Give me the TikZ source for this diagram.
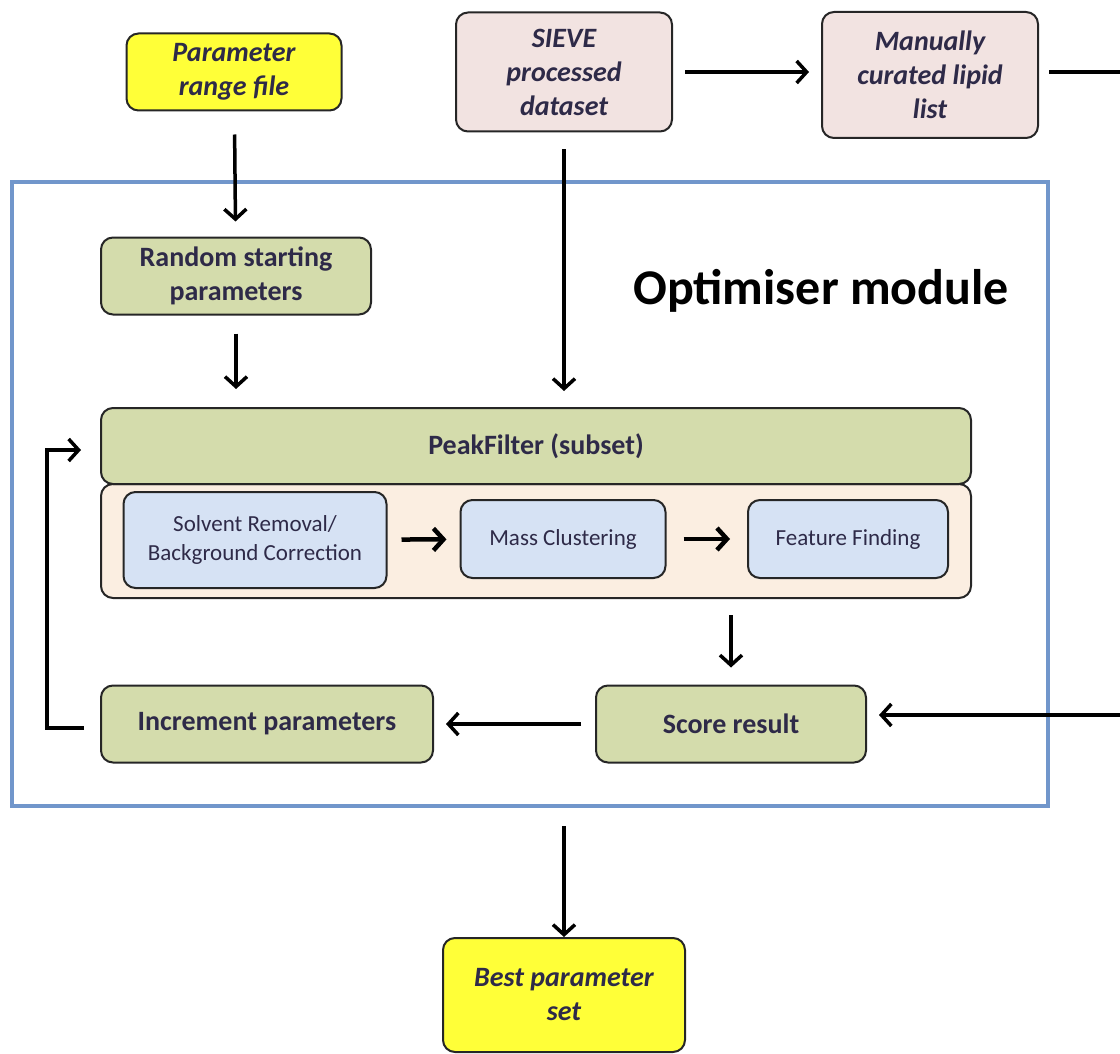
\documentclass[tikz,border=0pt]{standalone}
\usepackage{fontspec}
\setmainfont{Carlito}
\usetikzlibrary{arrows.meta}
\definecolor{ink}{HTML}{2E2A48}
\definecolor{lemon}{HTML}{FFFF38}
\definecolor{rose}{HTML}{F2E3E1}
\definecolor{sage}{HTML}{D4DCAC}
\definecolor{cream}{HTML}{FBEEE1}
\definecolor{sky}{HTML}{D6E2F4}
\definecolor{frameblue}{HTML}{7196CB}
\tikzset{box/.style={draw=black!85, line width=2pt, rounded corners=12pt, inner sep=0pt, align=center, text=ink},
         infile/.style={box, fill=lemon, font=\fontsize{28}{34}\selectfont\bfseries\itshape},
         indata/.style={box, fill=rose, font=\fontsize{28}{34}\selectfont\bfseries\itshape},
         stepbox/.style={box, fill=sage, font=\fontsize{28}{34}\selectfont\bfseries},
         subbox/.style={box, fill=sky, font=\fontsize{23}{29}\selectfont},
         arr/.style={-{Straight Barb[length=10pt,width=22pt]}, line width=3.5pt, black},
         link/.style={line width=3.5pt, black}}

\begin{document}
\begin{tikzpicture}[x=1pt,y=-1pt]
   \useasboundingbox (0,0) rectangle (1120,1054);
   \node[draw=frameblue, line width=4pt, minimum width=1036pt, minimum height=624pt] (frame) at (530,494) {};
   \node[font=\fontsize{50}{58}\selectfont\bfseries] (title) at (821,291) {Optimiser module};
   % inputs
   \node[infile, minimum width=215pt, minimum height=77pt] (par) at (234,72) {Parameter\\range file};
   \node[indata, minimum width=216pt, minimum height=119pt] (sieve) at (564,72) {SIEVE\\processed\\dataset};
   \node[indata, minimum width=216pt, minimum height=126pt] (lipid) at (930,75) {Manually\\curated lipid\\list};
   % optimiser
   \node[stepbox, minimum width=270pt, minimum height=77pt] (rand) at (236,276) {Random starting\\parameters};
   \node[box, fill=cream, minimum width=870pt, minimum height=114pt] (inner) at (536,541) {};
   \node[stepbox, minimum width=870pt, minimum height=76pt] (peak) at (536,446) {PeakFilter (subset)};
   \node[subbox, minimum width=263pt, minimum height=96pt] (solv) at (255,540) {Solvent Removal/\\Background Correction};
   \node[subbox, minimum width=205pt, minimum height=78pt] (mass) at (563,539) {Mass Clustering};
   \node[subbox, minimum width=200pt, minimum height=78pt] (feat) at (848,539) {Feature Finding};
   \node[stepbox, minimum width=270pt, minimum height=77pt] (score) at (731,724) {Score result};
   \node[stepbox, minimum width=332pt, minimum height=77pt] (incr) at (267,724) {Increment parameters};
   % output
   \node[infile, minimum width=242pt, minimum height=114pt] (best) at (564,995) {Best parameter\\set};
   \coordinate (out) at (564,826);
   \coordinate (rin) at (1125,715);
   % connectors
   \draw[arr, shorten <=23pt, shorten >=15pt] (par) -- (rand);
   \draw[arr, shorten <=18pt, shorten >=18pt] (rand) -- (rand |- peak.north);
   \draw[arr, shorten <=17pt, shorten >=16pt] (sieve) -- (sieve |- peak.north);
   \draw[arr, shorten <=12pt, shorten >=12pt] (sieve) -- (lipid.west |- sieve);
   \draw[link, shorten <=10pt] (lipid.east |- sieve) -- ++(90,0);
   \draw[arr, shorten >=12pt] (rin) -- (rin -| score.east);
   \draw[arr, line width=4.5pt, shorten <=14pt, shorten >=13pt] (solv) -- (mass);
   \draw[arr, line width=4.5pt, shorten <=17pt, shorten >=17pt] (mass) -- (feat);
   \draw[arr, shorten <=16pt, shorten >=17pt] (inner.south -| score) -- (score);
   \draw[arr, shorten <=14pt, shorten >=12pt] (score) -- (incr);
   \draw[arr] ([xshift=-16pt,yshift=-4pt]incr.west) -- ++(-37,0) |- ([xshift=-19pt,yshift=-4pt]peak.west);
   \draw[arr] (out) -- (best);
\end{tikzpicture}
\end{document}
